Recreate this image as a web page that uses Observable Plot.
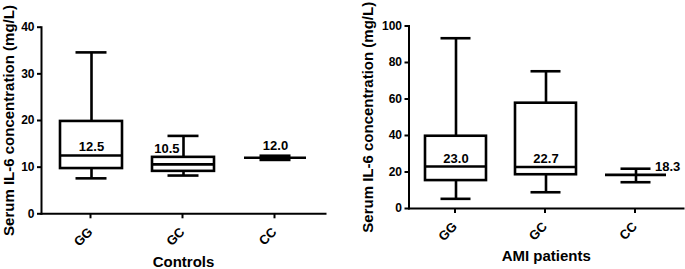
<!DOCTYPE html>
<html><head><meta charset="utf-8">
<script src="https://cdn.jsdelivr.net/npm/d3@7"></script>
<script src="https://cdn.jsdelivr.net/npm/@observablehq/plot@0.6"></script>
<style>
body{margin:0;background:#fff;}
#row{display:flex;width:685px;height:269px;overflow:hidden;}
#row svg{flex:none;}
</style></head><body><div id="row"></div>
<script>
const categories = ["GG", "GC", "CC"];

const controlsMin    = [7.6, 8.2, 11.55];
const controlsQ1     = [9.7, 9.1, 12.0];
const controlsMedian = [12.5, 10.6, 12.0];
const controlsQ3     = [19.8, 12.1, 12.0];
const controlsMax    = [34.6, 16.7, 12.45];
const controlsLabels = ["12.5", "10.5", "12.0"];
const controlsTicks  = [0, 10, 20, 30, 40];

const amiMin    = [5.3, 8.9, 14.4];
const amiQ1     = [15.3, 18.5, 18.4];
const amiMedian = [23.0, 22.7, 18.4];
const amiQ3     = [39.6, 57.7, 18.4];
const amiMax    = [93.3, 75.2, 21.8];
const amiLabels = ["23.0", "22.7", "18.3"];
const amiTicks  = [0, 20, 40, 60, 80, 100];

const yTitle = "Serum IL-6 concentration (mg/L)";

function rowsOf(mn, q1, md, q3, mx, lb) {
  return categories.map((c, i) => ({cat: c, min: mn[i], q1: q1[i], median: md[i], q3: q3[i], max: mx[i], label: lb[i]}));
}

const FONT = "'Liberation Sans', Arial, Helvetica, sans-serif";
const SW = 2.6;

function panel({rows, ticks, yMax, width, marginLeft, marginRight, marginTop, marginBottom, pIn, pOut, xTitle, yTitleDx, labelMarks}) {
  return Plot.plot({
    width, height: 269, marginLeft, marginRight, marginTop, marginBottom,
    style: {fontFamily: FONT, fontWeight: "bold", color: "#000", background: "#fff", overflow: "visible"},
    x: {domain: categories, paddingInner: pIn, paddingOuter: pOut, label: null},
    y: {domain: [0, yMax], label: null},
    marks: [
      Plot.ruleX(rows, {x: "cat", y1: "q3", y2: "max", stroke: "#000", strokeWidth: SW}),
      Plot.ruleX(rows, {x: "cat", y1: "min", y2: "q1", stroke: "#000", strokeWidth: SW}),
      Plot.barY(rows, {x: "cat", y1: "q1", y2: "q3", fill: "#fff", stroke: "#000", strokeWidth: SW}),
      Plot.tickY(rows, {x: "cat", y: "median", stroke: "#000", strokeWidth: SW}),
      Plot.tickY(rows, {x: "cat", y: "max", stroke: "#000", strokeWidth: SW, inset: 15.5}),
      Plot.tickY(rows, {x: "cat", y: "min", stroke: "#000", strokeWidth: SW, inset: 15.5}),
      ...labelMarks(rows),
      Plot.frame({anchor: "left", stroke: "#000", strokeWidth: 2}),
      Plot.frame({anchor: "bottom", stroke: "#000", strokeWidth: 2}),
      Plot.axisY({ticks, tickSize: 4, tickPadding: 3, fontSize: 12, strokeWidth: 2, label: null}),
      Plot.axisX({tickRotate: -45, tickSize: 5, tickPadding: 11, dx: -1, fontSize: 13, strokeWidth: 2, label: null}),
      Plot.text([yTitle], {frameAnchor: "left", textAnchor: "middle", rotate: -90, dx: yTitleDx, fontSize: 15, fontWeight: "bold", fill: "#000", lineAnchor: "middle"}),
      Plot.text([xTitle], {frameAnchor: "bottom", dy: 48, fontSize: 15, fontWeight: "bold", fill: "#000", lineAnchor: "middle"})
    ]
  });
}

const controls = rowsOf(controlsMin, controlsQ1, controlsMedian, controlsQ3, controlsMax, controlsLabels);
const ami = rowsOf(amiMin, amiQ1, amiMedian, amiQ3, amiMax, amiLabels);

const lab = {fontSize: 13, fontWeight: "bold", fill: "#000", lineAnchor: "bottom", text: "label"};

const left = panel({
  rows: controls, ticks: controlsTicks, yMax: 40,
  width: 345, marginLeft: 41, marginRight: 20, marginTop: 26.7, marginBottom: 55.7,
  pIn: 0.326, pOut: 0.196, xTitle: "Controls", yTitleDx: -32,
  labelMarks: (r) => [
    Plot.text([r[0]], {...lab, x: "cat", y: "median", dy: -4}),
    Plot.text([r[1]], {...lab, x: "cat", y: "q3", dx: -4, dy: -4, textAnchor: "end"}),
    Plot.text([r[2]], {...lab, x: "cat", y: "max", dy: -5.5})
  ]
});

const right = panel({
  rows: ami, ticks: amiTicks, yMax: 100,
  width: 340, marginLeft: 63.5, marginRight: 2, marginTop: 25.5, marginBottom: 61,
  pIn: 0.322, pOut: 0.17, xTitle: "AMI patients", yTitleDx: -40.5,
  labelMarks: (r) => [
    Plot.text([r[0], r[1]], {...lab, x: "cat", y: "median", dy: -4}),
    Plot.text([r[2]], {...lab, x: "cat", y: "median", dx: 19, dy: -3.5, textAnchor: "start"})
  ]
});

document.getElementById("row").append(left, right);
</script>
</body></html>
